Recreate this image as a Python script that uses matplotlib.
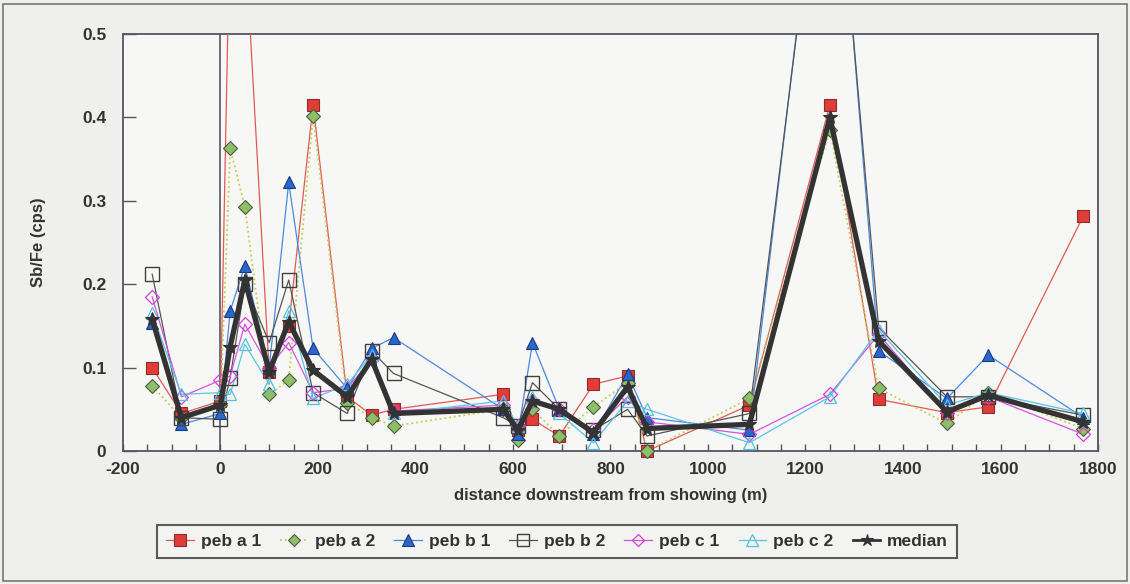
import numpy as np
import matplotlib
matplotlib.use("Agg")
import matplotlib.pyplot as plt
from matplotlib.lines import Line2D
from matplotlib.patches import Rectangle

plt.rcParams['font.family'] = ['Liberation Sans', 'DejaVu Sans']
plt.rcParams['font.weight'] = 'bold'

# distances downstream (m)
distance = [-140, -80, 0, 20, 50, 100, 140, 190, 260, 310, 355, 580, 610, 640, 695,
            765, 835, 875, 1085, 1250, 1350, 1490, 1575, 1770]

peb_a1 = [0.100, 0.045, 0.060, 0.65, 0.62, 0.095, 0.150, 0.415, 0.065, 0.043, 0.050, 0.068,
          0.025, 0.038, 0.018, 0.080, 0.090, 0.000, 0.055, 0.415, 0.062, 0.046, 0.053, 0.282]
peb_a2 = [0.078, 0.040, 0.055, 0.363, 0.293, 0.068, 0.085, 0.402, 0.058, 0.040, 0.030, 0.050,
          0.013, 0.050, 0.018, 0.053, 0.082, 0.000, 0.063, 0.385, 0.075, 0.033, 0.070, 0.027]
peb_b1 = [0.153, 0.032, 0.045, 0.168, 0.222, 0.100, 0.322, 0.123, 0.075, 0.123, 0.136, 0.050,
          0.020, 0.130, 0.050, 0.020, 0.092, 0.040, 0.025, 0.84, 0.120, 0.063, 0.115, 0.040]
peb_b2 = [0.212, 0.040, 0.038, 0.088, 0.200, 0.130, 0.205, 0.070, 0.045, 0.120, 0.093, 0.040,
          0.030, 0.082, 0.050, 0.025, 0.050, 0.018, 0.045, 0.82, 0.148, 0.065, 0.065, 0.043]
peb_c1 = [0.185, 0.065, 0.085, 0.090, 0.152, 0.100, 0.130, 0.070, 0.075, 0.110, 0.048, 0.055,
          0.030, 0.060, 0.050, 0.025, 0.065, 0.035, 0.020, 0.068, 0.140, 0.045, 0.065, 0.020]
peb_c2 = [0.165, 0.068, 0.070, 0.068, 0.128, 0.080, 0.168, 0.063, 0.080, 0.115, 0.045, 0.060,
          0.030, 0.065, 0.045, 0.010, 0.060, 0.050, 0.010, 0.065, 0.145, 0.055, 0.070, 0.045]
median = [0.158, 0.040, 0.055, 0.125, 0.205, 0.095, 0.155, 0.097, 0.065, 0.110, 0.045, 0.050,
          0.025, 0.060, 0.050, 0.022, 0.077, 0.027, 0.032, 0.400, 0.132, 0.047, 0.067, 0.035]

labels = ['peb a 1', 'peb a 2', 'peb b 1', 'peb b 2', 'peb c 1', 'peb c 2', 'median']
x_ticks = [-200, 0, 200, 400, 600, 800, 1000, 1200, 1400, 1600, 1800]
y_ticks = [0, 0.1, 0.2, 0.3, 0.4, 0.5]

styles = [
    dict(color='#e25a55', ls='-', lw=0.9, marker='s', ms=9, mfc='#e03c38', mec='#8a2e2e', mew=0.8),
    dict(color='#c2cc5a', ls=':', lw=1.3, marker='D', ms=7, mfc='#8dbf68', mec='#4d5a3e', mew=0.8),
    dict(color='#4a8ae0', ls='-', lw=0.9, marker='^', ms=9, mfc='#2a66cc', mec='#1b3a80', mew=0.8),
    dict(color='#555555', ls='-', lw=0.9, marker='s', ms=10, mfc='none', mec='#404040', mew=1.0),
    dict(color='#d455dd', ls='-', lw=0.9, marker='D', ms=7, mfc='none', mec='#d040d8', mew=0.9),
    dict(color='#5cc4e6', ls='-', lw=0.9, marker='^', ms=9, mfc='none', mec='#55c0e4', mew=0.9),
    dict(color='#333333', ls='-', lw=3.8, marker='*', ms=10, mfc='#333333', mec='#333333', mew=0.8),
]
series = [peb_a1, peb_a2, peb_b1, peb_b2, peb_c1, peb_c2, median]

fig = plt.figure(figsize=(11.3, 5.84), dpi=100)
fig.patch.set_facecolor('#efefed')
fig.patches.append(Rectangle((0.003, 0.005), 0.994, 0.988, transform=fig.transFigure,
                             fill=False, edgecolor='#777777', lw=1.2))
ax = fig.add_axes([0.1088, 0.2277, 0.8629, 0.7141])
ax.set_facecolor('#f7f7f5')

ax.axvline(0, color='#555566', lw=1.2, zorder=1)

x = np.array(distance, dtype=float)
handles = []
for vals, st, lab in zip(series, styles, labels):
    v = np.array(vals, dtype=float)
    z = 5 if lab == 'median' else 3
    ax.plot(x, v, color=st['color'], ls=st['ls'], lw=st['lw'], zorder=z)
    vm = np.where(v <= 0.5, v, np.nan)
    ax.plot(x, vm, ls='none', marker=st['marker'], ms=st['ms'], mfc=st['mfc'],
            mec=st['mec'], mew=st['mew'], clip_on=False, zorder=z + 1)
    handles.append(Line2D([], [], color=st['color'], ls='-' if st['ls'] == '-' else ':',
                          lw=min(st['lw'], 2.0), marker=st['marker'], ms=st['ms'] * 0.9,
                          mfc=st['mfc'], mec=st['mec'], mew=st['mew']))

ax.set_xlim(-200, 1800)
ax.set_ylim(0, 0.5)
ax.set_xticks(x_ticks)
ax.set_xticklabels([str(t) for t in x_ticks])
ax.set_xticks(np.arange(-200, 1801, 50), minor=True)
ax.set_yticks(y_ticks)
ax.set_yticklabels(['0', '0.1', '0.2', '0.3', '0.4', '0.5'])
ax.tick_params(axis='x', which='both', direction='in', length=5, width=1, color='#555555',
               labelsize=12.5, pad=8)
ax.tick_params(axis='y', which='major', direction='in', length=9, width=1, color='#555555',
               labelsize=12.5, pad=12)
for lbl in ax.get_xticklabels() + ax.get_yticklabels():
    lbl.set_fontweight('bold')
    lbl.set_color('#333333')
for sp in ax.spines.values():
    sp.set_color('#555560')
    sp.set_linewidth(1.3)

ax.set_xlabel('distance downstream from showing (m)', fontsize=12, fontweight='bold',
              color='#333333', labelpad=8)
ax.set_ylabel('Sb/Fe (cps)', fontsize=12, fontweight='bold', color='#333333', labelpad=26)

leg = fig.legend(handles, labels, loc='center', bbox_to_anchor=(0.493, 0.073), ncol=7,
                 frameon=True, fancybox=False, handlelength=1.6,
                 handletextpad=0.4, columnspacing=1.1, borderpad=0.5,
                 prop={'weight': 'bold', 'size': 12.5})
leg.get_frame().set_edgecolor('#333333')
leg.get_frame().set_linewidth(1.5)
leg.get_frame().set_facecolor('#f5f5f3')
for t in leg.get_texts():
    t.set_color('#333333')

fig.savefig('out.png', dpi=100, facecolor=fig.get_facecolor())
